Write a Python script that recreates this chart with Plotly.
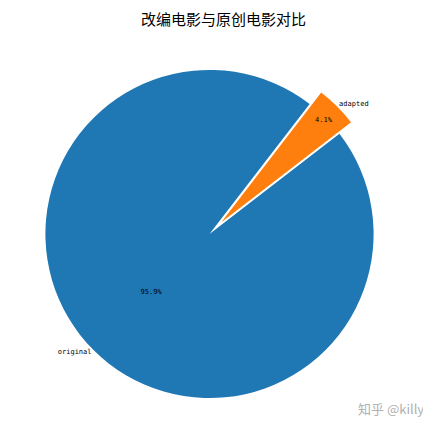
import plotly.graph_objects as go

labels = ["adapted", "original"]
values = [4.1, 95.9]
colors = ["#ff7f0e", "#1f77b4"]
pulls = [0.1, 0]

title = "改编电影与原创电影对比"
watermark = "知乎 @killy"

fig = go.Figure()

# coloured pie with percentages inside
fig.add_trace(go.Pie(
    labels=labels, values=values, sort=False, direction="counterclockwise",
    rotation=37.6, pull=pulls,
    marker=dict(colors=colors, line=dict(color="white", width=0)),
    texttemplate="%{percent:.1%}", textposition="inside",
    insidetextorientation="horizontal",
    textfont=dict(family="DejaVu Sans Mono", size=7, color="black"),
    hoverinfo="label+percent", showlegend=False,
))

# transparent copy carrying the outside labels
fig.add_trace(go.Pie(
    labels=labels, values=values, sort=False, direction="counterclockwise",
    rotation=37.6, pull=pulls,
    marker=dict(colors=["rgba(0,0,0,0)"] * 2),
    texttemplate="%{label}", textposition="outside",
    textfont=dict(family="DejaVu Sans Mono", size=7, color="black"),
    showlegend=False, hoverinfo="skip",
))

fig.add_annotation(
    text=watermark, x=1.1, y=0.024, xref="paper", yref="paper",
    xanchor="right", yanchor="middle", showarrow=False,
    font=dict(family="Noto Sans CJK SC", size=13, color="#b0b0b0"),
)

fig.update_layout(
    width=431, height=434,
    title=dict(text=title, x=0.5, xanchor="center", y=0.972, yanchor="middle",
               font=dict(family="Noto Sans CJK SC", size=15, color="black")),
    margin=dict(l=2, r=49, t=43, b=11),
    paper_bgcolor="white", plot_bgcolor="white",
)

fig.write_html("out.html")
